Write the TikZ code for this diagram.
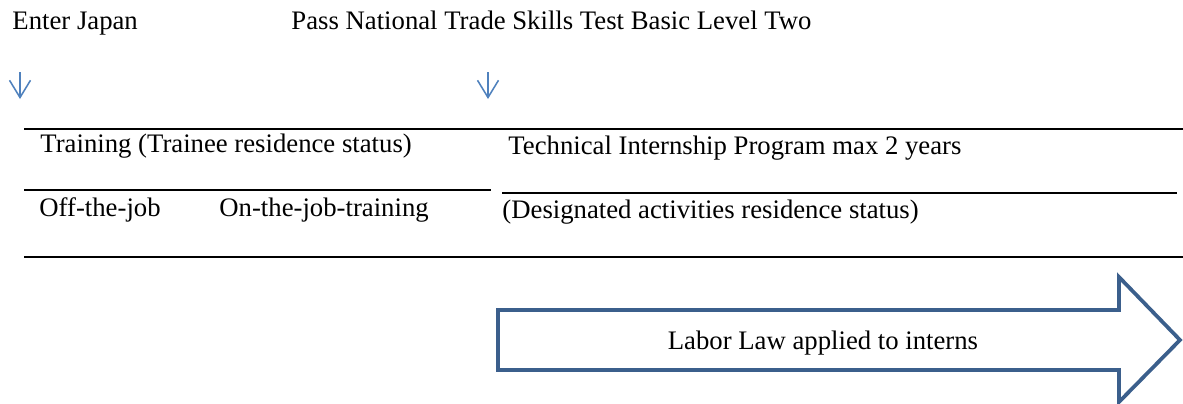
\documentclass[tikz,border=0pt]{standalone}
\usepackage{fontspec}
\setmainfont{Liberation Serif}
\usepackage{xcolor}
\usepackage{tikz}
\usetikzlibrary{arrows.meta}
\definecolor{cueblue}{HTML}{4F81BD}
\definecolor{lawblue}{HTML}{3B5F8C}

\begin{document}
\begin{tikzpicture}[x=0.4528pt, y=-0.4528pt,
    lbl/.style={anchor=base west, inner sep=0pt, font=\fontsize{12.1}{14}\selectfont},
    rule/.style={line width=0.95pt},
    cue/.style={draw=cueblue, line width=0.7pt, -{Straight Barb[length=7.8pt,width=9.5pt]}},
    law/.style={draw=lawblue, line width=1.7pt, line join=miter}]
    \useasboundingbox (0,0) rectangle (1183,404);

    % milestones
    \node[lbl] (enter) at (12,29.5) {Enter Japan};
    \node[lbl] (pass) at (291,29.5) {Pass National Trade Skills Test Basic Level Two};
    \coordinate (enterTop) at (20,72);
    \coordinate (enterBot) at (20,99);
    \coordinate (passTop) at (488,72);
    \coordinate (passBot) at (488,99);
    \draw[cue] (enterTop) -- (enterBot);
    \draw[cue] (passTop) -- (passBot);

    % rules of the table
    \coordinate (topL) at (24,129);
    \coordinate (topR) at (1183,129);
    \coordinate (midLa) at (24,190);
    \coordinate (midLb) at (491,190);
    \coordinate (midRa) at (502,193);
    \coordinate (midRb) at (1177,193);
    \coordinate (botL) at (24,257);
    \coordinate (botR) at (1183,257);
    \draw[rule] (topL) -- (topR);
    \draw[rule] (midLa) -- (midLb);
    \draw[rule] (midRa) -- (midRb);
    \draw[rule] (botL) -- (botR);

    % rows
    \node[lbl] (training) at (40,152.7) {Training (Trainee residence status)};
    \node[lbl] (offjob) at (39,216.7) {Off-the-job};
    \node[lbl] (onjob) at (219,216.7) {On-the-job-training};
    \node[lbl] (intern) at (508,154) {Technical Internship Program max 2 years};
    \node[lbl] (status) at (502,218) {(Designated activities residence status)};

    % labor law arrow
    \draw[law] (498,310) -- (1119,310) -- (1119,277) -- (1180,340)
        -- (1119,402) -- (1119,370) -- (498,370) -- cycle;
    \node[lbl, anchor=base] (labor) at (823,349) {Labor Law applied to interns};
\end{tikzpicture}
\end{document}
